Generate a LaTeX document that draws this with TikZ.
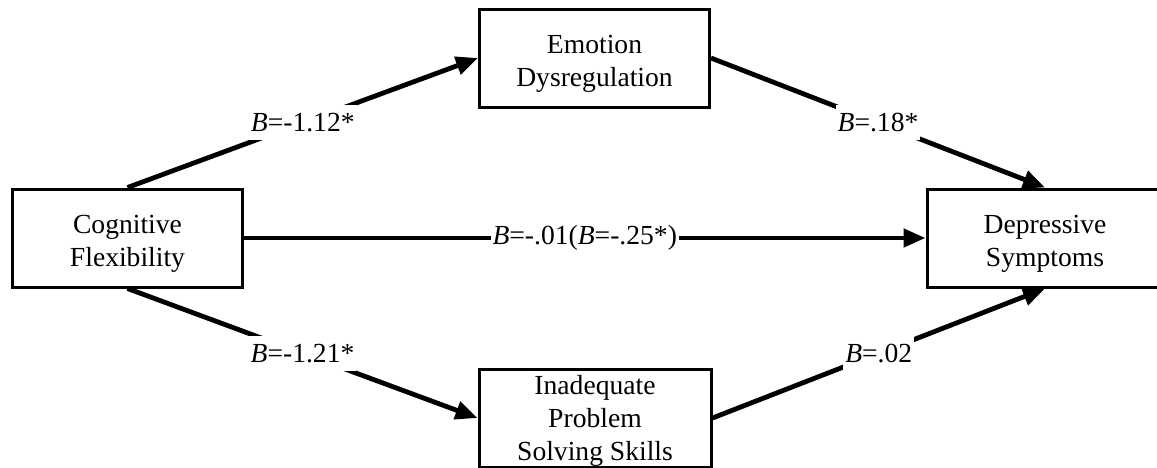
\documentclass[tikz,border=0pt]{standalone}
\usepackage{fontspec}
\setmainfont{Liberation Serif}
\usetikzlibrary{positioning}
\usetikzlibrary{arrows.meta}

\begin{document}
\begin{tikzpicture}[
    x=0.5pt, y=-0.5pt,
    >={Triangle[length=11pt,width=9pt]},
    var/.style={rectangle, draw, line width=1.5pt, fill=white, align=center,
    minimum width=115pt, minimum height=49pt, inner sep=0pt,
    font=\fontsize{13.8}{16.5}\selectfont, text height=31pt, text depth=3pt},
    effect/.style={->, draw, line width=2.4pt},
    coef/.style={fill=white, inner xsep=1pt, inner ysep=4pt, font=\fontsize{13.8}{16}\selectfont}
    ]
\useasboundingbox (0,0) rectangle (1157,467);
\clip (0,0) rectangle (1157,467);

% variables
\node[var] (cog) at (127.5,238) {Cognitive\\Flexibility};
\node[var] (emo) at (594.5,58) {Emotion\\Dysregulation};
\node[var, minimum width=116pt, text height=45.5pt] (inad) at (595,418) {Inadequate\\Problem\\Solving Skills};
\node[var, minimum width=118pt] (dep) at (1045,238) {Depressive\\Symptoms};

% paths
\draw[effect] (cog.north) -- node[coef] {\textit{B}=-1.12*} (emo.west);
\draw[effect] (cog.south) -- node[coef] {\textit{B}=-1.21*} (inad.west);
\draw[effect] (emo.east) -- node[coef] {\textit{B}=.18*} (dep.north);
\draw[effect] (inad.east) -- node[coef] {\textit{B}=.02} (dep.south);
\draw[effect] (cog.east) -- node[coef] {\textit{B}=-.01(\textit{B}=-.25*)} (dep.west);
\end{tikzpicture}
\end{document}
